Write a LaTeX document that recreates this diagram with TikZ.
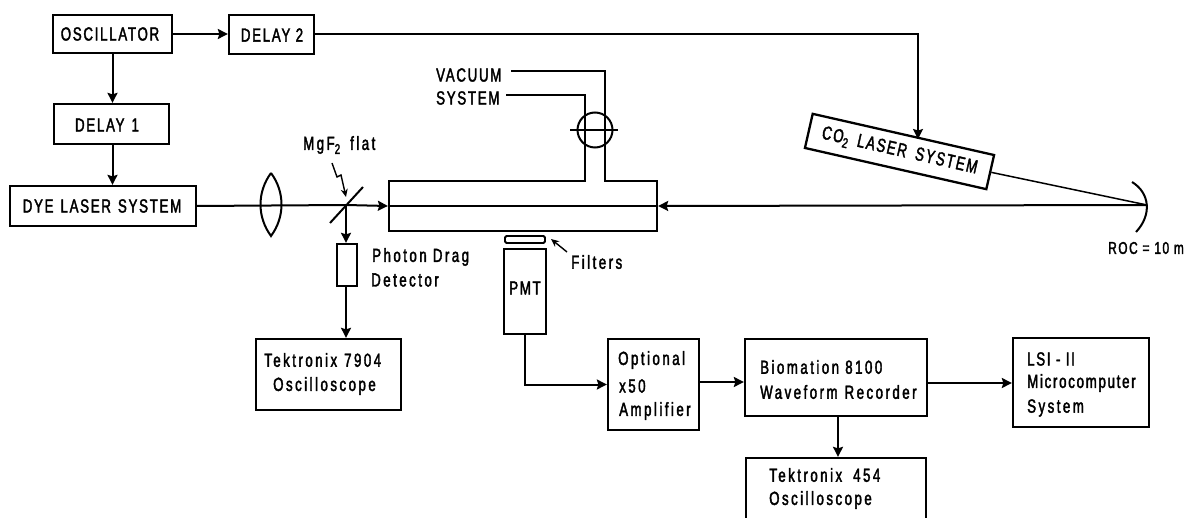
\documentclass[tikz,border=0pt]{standalone}
\usepackage{fontspec}
\setmainfont[FakeStretch=0.70,LetterSpace=9,FakeBold=2]{Liberation Sans}
\newfontfamily\lcfont[FakeStretch=0.70,LetterSpace=13,FakeBold=2]{Liberation Sans}
\usetikzlibrary{arrows.meta,calc}
\newcommand{\gapw}{\hspace{7pt}}
\newcommand{\subtwo}{\raisebox{-4pt}{\fontsize{14}{14}\selectfont 2}}
\tikzset{
 x=1pt,y=-1pt,
 lbl/.style={inner sep=0pt,font=\fontsize{19}{19}\selectfont,align=left,text=black},
 lcl/.style={lbl,font=\fontsize{19}{19}\selectfont\lcfont},
 boxn/.style={draw=black,line width=2.3pt,inner sep=0pt,minimum width=#1},
 wire/.style={draw=black,line width=2pt},
 thin wire/.style={draw=black,line width=1.4pt},
 arr/.style={wire,-{Stealth[length=10pt,width=10pt,inset=1.5pt]}},
}
\newcommand{\rectbox}[5]{\node[boxn=#4-#2,minimum height=#5-#3] (#1) at ({(#2+#4)/2},{(#3+#5)/2}) {};}
\begin{document}
\begin{tikzpicture}
\useasboundingbox (0,0) rectangle (1185,518);
\clip (0,0) rectangle (1185,518);
\rectbox{osc}{53}{15}{172}{53}
\rectbox{d2}{229}{15}{314}{54}
\rectbox{d1}{54}{104}{169}{144}
\rectbox{dye}{10}{186}{196}{226}
\rectbox{pdd}{337}{244}{357}{286}
\rectbox{tube}{389}{181}{657}{231}
\rectbox{pmt}{504}{249}{546}{334}
\rectbox{t79}{256}{339}{401}{410}
\rectbox{opt}{608}{339}{699}{430}
\rectbox{bio}{745}{339}{927}{416}
\rectbox{t45}{746}{458}{926}{540}
\rectbox{lsi}{1013}{338}{1149}{427}
\node[lbl] (n1) at (110,34) {OSCILLATOR};
\node[lbl] (n2) at (272,35) {DELAY 2};
\node[lbl] (n3) at (107,125) {DELAY\gapw 1};
\node[lbl] (n4) at (102,206) {DYE\gapw LASER\gapw SYSTEM};
\node[lcl,anchor=west] (n5) at (303,145) {MgF\subtwo\hspace{10pt}flat};
\node[lcl,anchor=west] (n6) at (372,257) {Photon Drag};
\node[lcl,anchor=west] (n7) at (371,280) {Detector};
\node[lbl,anchor=west] (n8) at (436,75) {VACUUM};
\node[lbl,anchor=west] (n9) at (436,98) {SYSTEM};
\node[lcl,anchor=west] (n10) at (571,262) {Filters};
\node[lbl] (n11) at (525,288) {PMT};
\node[lcl,anchor=west] (n12) at (264,360) {Tektronix\gapw 7904};
\node[lcl,anchor=west] (n13) at (273,386) {Oscilloscope};
\node[lcl,anchor=west] (n14) at (618,360) {Optional};
\node[lcl,anchor=west] (n15) at (619,386) {x50};
\node[lcl,anchor=west] (n16) at (619,411) {Amplifier};
\node[lcl,anchor=west] (n17) at (760,367) {Biomation 8100};
\node[lcl,anchor=west] (n18) at (760,392) {Waveform\gapw Recorder};
\node[lcl,anchor=west] (n19) at (769,475) {Tektronix\hspace{11pt}454};
\node[lcl,anchor=west] (n20) at (769,500) {Oscilloscope};
\node[lbl,anchor=west] (n21) at (1027,359) {LSI - II};
\node[lbl,anchor=west] (n22) at (1027,383) {Microcomputer};
\node[lcl,anchor=west] (n23) at (1027,408) {System};
\node[lbl,anchor=west,font=\fontsize{17}{17}\selectfont] (n24) at (1108,248) {ROC = 10 m};
% CO2 laser
\node[lbl,align=center,draw=black,line width=2.3pt,minimum width=186pt,minimum height=35pt,inner sep=0pt,rotate=-12.8] (co2) at (899.5,151.5) {CO\subtwo\hspace{9pt}LASER\hspace{9pt}SYSTEM};
% mirror and lens
\coordinate (mir) at (1147,205);
\coordinate (bm) at (346,205);
\draw[wire] (1132,182) .. controls (1150,193) and (1152,215) .. (1136,232);
\draw[wire] (271,173) .. controls (257,192) and (257,217) .. (271,236) .. controls (285,217) and (285,192) .. (271,173);
\draw[wire] (330,223) -- (363,187);
% connectors
\draw[arr] (osc.east) -- (d2.west |- osc.east);
\draw[arr] (osc.south) -- (d1.north -| osc.south);
\draw[arr] (d1.south -| osc.south) -- (dye.north -| osc.south);
\draw[wire] (dye.east) -- (bm);
\draw[arr] (bm) -- (tube.west);
\draw[arr] (bm) -- (pdd.north -| bm);
\draw[arr] (pdd.south -| bm) -- (t79.north -| bm);
\draw[wire] (tube.west) -- (tube.east);
\draw[arr] (mir) -- (tube.east);
\coordinate (co2top) at (918,139);
\draw[arr] (d2.east) -| (co2top);
\draw[wire,line width=1.5pt] (co2.east) -- (mir);
\draw[arr] (pmt.south) |- (opt.west);
\coordinate (ya) at (700,382);
\draw[arr] (opt.east |- ya) -- (bio.west |- ya);
\coordinate (yb) at (700,383);
\draw[arr] (bio.east |- yb) -- (lsi.west |- yb);
\coordinate (xc) at (838,416);
\draw[arr] (xc) -- (t45.north -| xc);
% vacuum
\draw[wire] (506,95) -- (585,95) -- (585,181);
\draw[wire] (511,71) -- (605,71) -- (605,181);
\draw[draw=white,line width=3pt] (586.2,181) -- (603.8,181);
\node[draw=black,line width=2pt,circle,minimum size=35pt,inner sep=0pt] (valve) at (595,130) {};
\draw[wire] (570,130) -- (618,130);
% filters
\node[draw=black,line width=1.8pt,rounded corners=1.5pt,minimum width=40pt,minimum height=7pt,inner sep=0pt] (flt) at (525,239.5) {};
\coordinate (fa) at (567,252);
\draw[thin wire,-{Stealth[length=8pt,width=7pt]}] (fa) -- (551,239);
% squiggle
\coordinate (sq) at (332,163);
\draw[thin wire,-{Stealth[length=8pt,width=7pt]}] (sq) -- (337,177) -- (341,175) -- (346,197);
\end{tikzpicture}
\end{document}
